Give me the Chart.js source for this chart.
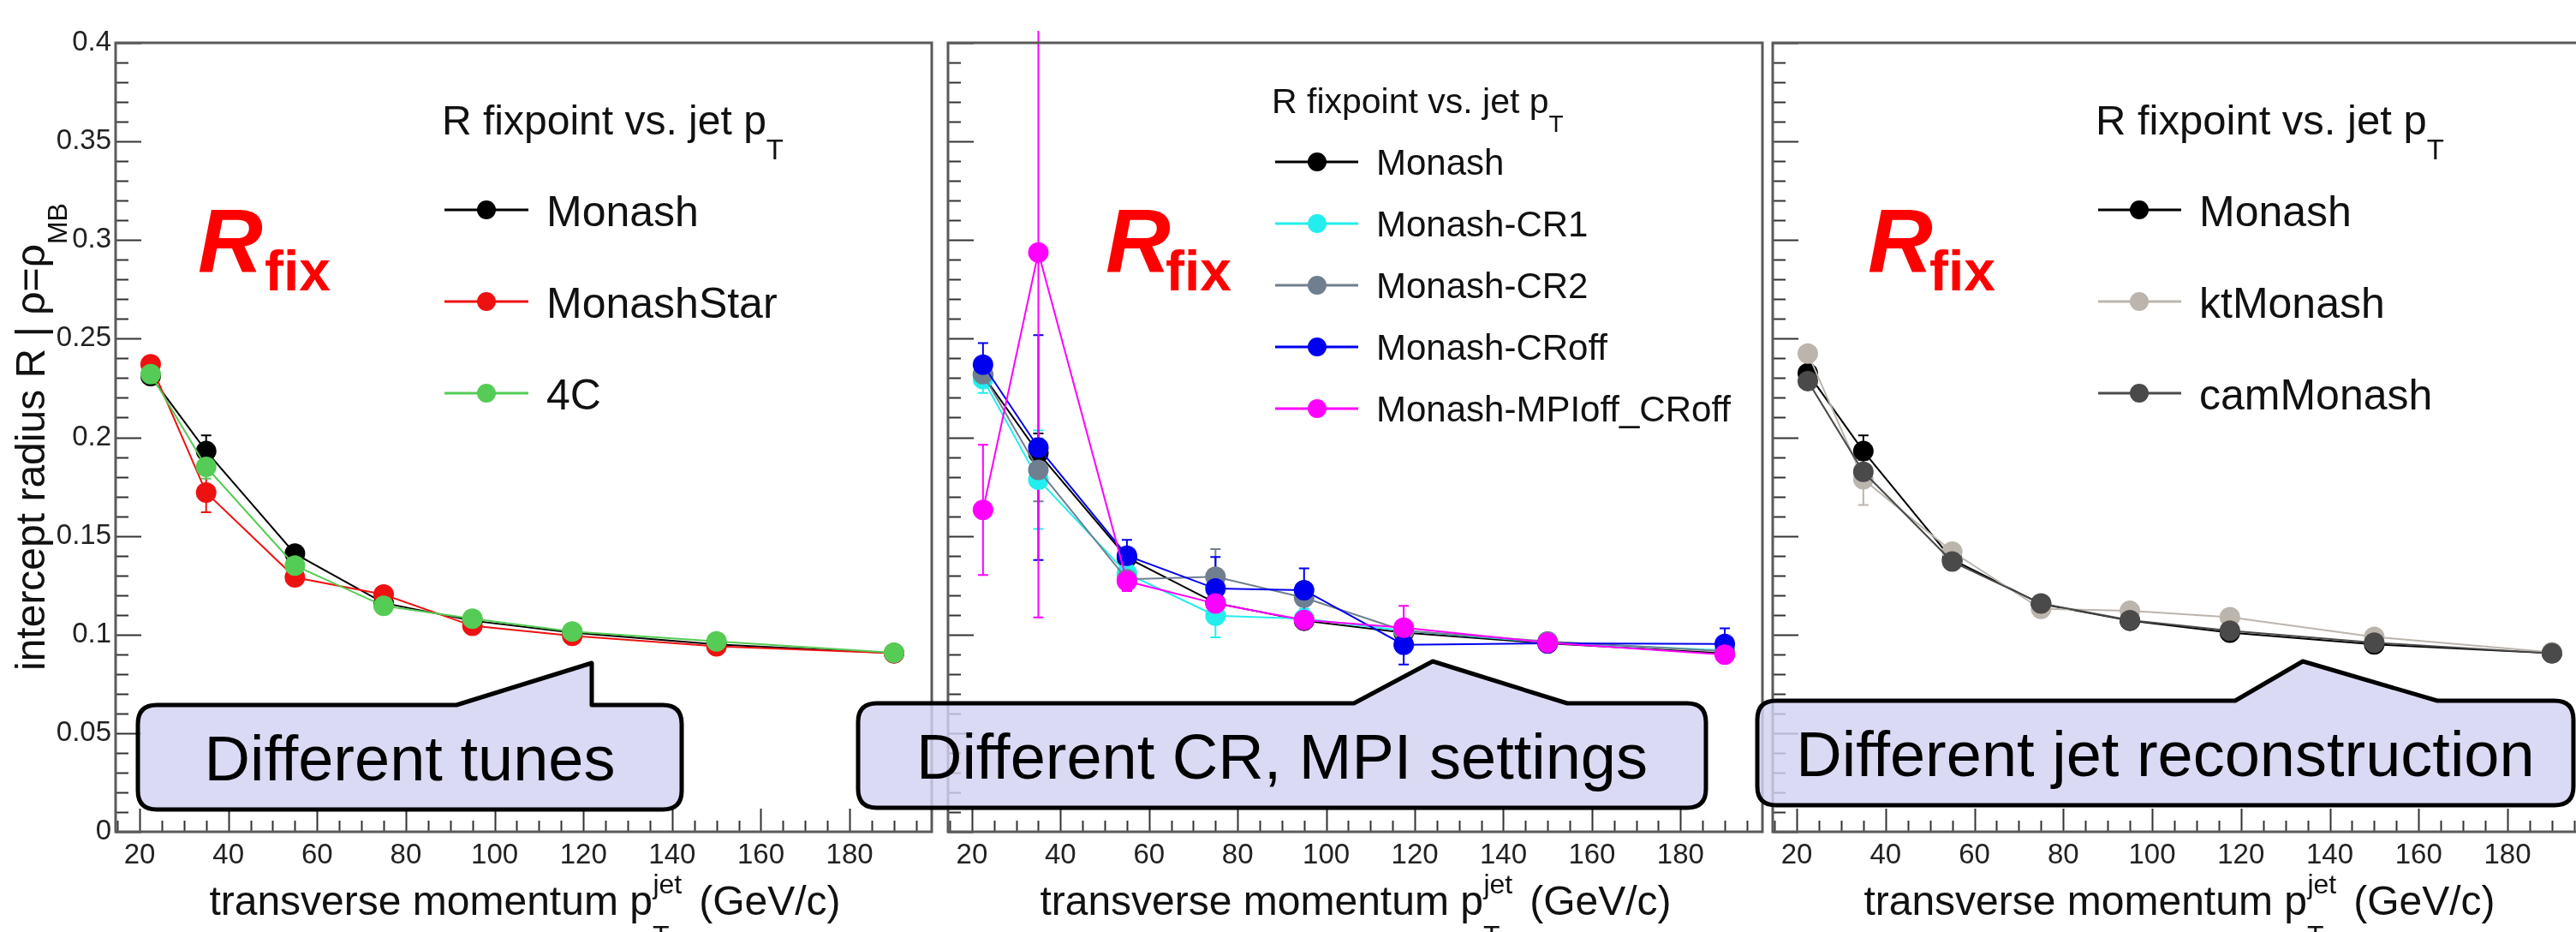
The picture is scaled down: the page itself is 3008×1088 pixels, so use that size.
<!DOCTYPE html>
<html>
<head>
<meta charset="utf-8">
<script src="https://cdn.jsdelivr.net/npm/chart.js@4.4.0/dist/chart.umd.min.js"></script>
<style>
  html, body { margin: 0; padding: 0; background: #fff; overflow: hidden; }
  #page { position: relative; width: 3008px; height: 1088px; overflow: hidden; }
  canvas { position: absolute; top: 0; }
  #overlay { position: absolute; left: 0; top: 0; pointer-events: none; }
</style>
</head>
<body>
<div id="page">
  <canvas id="c1" width="1100" height="1088" style="left:0px"></canvas>
  <canvas id="c2" width="975" height="1088" style="left:1095px"></canvas>
  <canvas id="c3" width="1000" height="1088" style="left:2058px"></canvas>
  <svg id="overlay" width="3008" height="1088" xmlns="http://www.w3.org/2000/svg"></svg>
</div>
<script>
const FONT = "'Liberation Sans', Arial, Helvetica, sans-serif";

// jet pT bins (GeV/c)
const ptBins = [22.5, 35, 55, 75, 95, 117.5, 150, 190];

// axis ticks
const xTickValues = [20, 40, 60, 80, 100, 120, 140, 160, 180];
const yTickValues = [0, 0.05, 0.1, 0.15, 0.2, 0.25, 0.3, 0.35, 0.4];
const yTickLabels = ["0", "0.05", "0.1", "0.15", "0.2", "0.25", "0.3", "0.35", "0.4"];

// panel 1 : different tunes
const monashTunes = [0.231, 0.193, 0.141, 0.116, 0.107, 0.101, 0.095, 0.0905];
const monashTunesErr = [0.003, 0.008, 0.003, 0.003, 0.002, 0.002, 0.002, 0.002];
const monashStar = [0.237, 0.172, 0.129, 0.1203, 0.1044, 0.0993, 0.094, 0.0905];
const monashStarErr = [0.004, 0.010, 0.003, 0.003, 0.002, 0.002, 0.002, 0.002];
const tune4C = [0.232, 0.185, 0.135, 0.1145, 0.108, 0.1015, 0.0965, 0.0908];
const tune4CErr = [0.003, 0.006, 0.003, 0.003, 0.002, 0.002, 0.002, 0.002];

// panel 2 : different CR, MPI settings
const monashCR = [0.2315, 0.192, 0.139, 0.116, 0.107, 0.101, 0.0955, 0.0905];
const monashCRErr = [0.005, 0.010, 0.005, 0.005, 0.004, 0.004, 0.003, 0.003];
const monashCR1 = [0.2295, 0.1785, 0.131, 0.1096, 0.108, 0.102, 0.096, 0.092];
const monashCR1Err = [0.007, 0.025, 0.005, 0.011, 0.005, 0.005, 0.003, 0.003];
const monashCR2 = [0.232, 0.1835, 0.128, 0.1293, 0.1187, 0.102, 0.0965, 0.0915];
const monashCR2Err = [0.006, 0.016, 0.005, 0.014, 0.008, 0.005, 0.004, 0.003];
const monashCRoff = [0.2368, 0.1948, 0.140, 0.1233, 0.1225, 0.0948, 0.0955, 0.0952];
const monashCRoffErr = [0.011, 0.057, 0.008, 0.016, 0.011, 0.010, 0.004, 0.008];
const monashMPIoff = [0.1632, 0.2937, 0.127, 0.1157, 0.1074, 0.1035, 0.0959, 0.0898];
const monashMPIoffErr = [0.033, 0.185, 0.005, 0.006, 0.004, 0.011, 0.003, 0.003];

// panel 3 : different jet reconstruction
const monashReco = [0.2325, 0.193, 0.138, 0.1155, 0.107, 0.101, 0.095, 0.0905];
const monashRecoErr = [0.003, 0.008, 0.003, 0.002, 0.002, 0.002, 0.002, 0.002];
const ktMonash = [0.2425, 0.1787, 0.142, 0.113, 0.112, 0.1088, 0.0988, 0.091];
const ktMonashErr = [0.003, 0.013, 0.004, 0.003, 0.003, 0.003, 0.002, 0.002];
const camMonash = [0.2285, 0.1825, 0.137, 0.1157, 0.1073, 0.102, 0.0959, 0.0905];
const camMonashErr = [0.003, 0.006, 0.003, 0.002, 0.002, 0.002, 0.002, 0.002];

const panels = [
  {
    canvas: "c1", yWidth: 135, padRight: 8, yLabels: true,
    series: [
      { label: "Monash", values: monashTunes, err: monashTunesErr, color: "#000000" },
      { label: "MonashStar", values: monashStar, err: monashStarErr, color: "#ee1111" },
      { label: "4C", values: tune4C, err: tune4CErr, color: "#55cc55" },
    ],
  },
  {
    canvas: "c2", yWidth: 8, padRight: 6, yLabels: false,
    series: [
      { label: "Monash", values: monashCR, err: monashCRErr, color: "#000000" },
      { label: "Monash-CR1", values: monashCR1, err: monashCR1Err, color: "#22eeee" },
      { label: "Monash-CR2", values: monashCR2, err: monashCR2Err, color: "#6f7f8f" },
      { label: "Monash-CRoff", values: monashCRoff, err: monashCRoffErr, color: "#0000ee" },
      { label: "Monash-MPIoff_CRoff", values: monashMPIoff, err: monashMPIoffErr, color: "#ff00ff" },
    ],
  },
  {
    canvas: "c3", yWidth: 8, padRight: 34, yLabels: false,
    series: [
      { label: "Monash", values: monashReco, err: monashRecoErr, color: "#000000" },
      { label: "ktMonash", values: ktMonash, err: ktMonashErr, color: "#bcb5ad" },
      { label: "camMonash", values: camMonash, err: camMonashErr, color: "#4a4a4a" },
    ],
  },
];

// vertical error bars, drawn under the markers
const errorBars = {
  id: "errorBars",
  beforeDatasetsDraw(chart) {
    const { ctx, chartArea: a, scales: { x, y } } = chart;
    ctx.save();
    ctx.beginPath();
    ctx.rect(a.left, a.top - 14, a.right - a.left, a.bottom - a.top + 14);
    ctx.clip();
    chart.data.datasets.forEach((ds) => {
      ctx.strokeStyle = ds.borderColor;
      ctx.lineWidth = 2;
      ds.data.forEach((p, k) => {
        const e = ds.err[k];
        const px = x.getPixelForValue(p.x);
        const top = y.getPixelForValue(p.y + e);
        const bot = y.getPixelForValue(p.y - e);
        ctx.beginPath();
        ctx.moveTo(px, top); ctx.lineTo(px, bot);
        ctx.moveTo(px - 6, top); ctx.lineTo(px + 6, top);
        ctx.moveTo(px - 6, bot); ctx.lineTo(px + 6, bot);
        ctx.stroke();
      });
    });
    ctx.restore();
  },
};

// ROOT style frame with inside ticks
const rootFrame = {
  id: "rootFrame",
  afterDraw(chart) {
    const { ctx, chartArea: a, scales: { x, y } } = chart;
    ctx.save();
    ctx.strokeStyle = "#333";
    ctx.lineWidth = 2;
    ctx.beginPath();
    for (let i = 0; i <= 40; i++) {
      const py = Math.round(y.getPixelForValue(i / 100)) + 0.5;
      const len = i % 5 === 0 ? 30 : 15;
      ctx.moveTo(a.left, py); ctx.lineTo(a.left + len, py);
    }
    for (let i = 3; i <= 39; i++) {
      const px = Math.round(x.getPixelForValue(i * 5)) + 0.5;
      const len = (i * 5) % 20 === 0 ? 27 : 13;
      ctx.moveTo(px, a.bottom); ctx.lineTo(px, a.bottom - len);
    }
    ctx.stroke();
    ctx.strokeStyle = "#5a5a5a";
    ctx.lineWidth = 3;
    ctx.strokeRect(a.left, a.top, a.right - a.left, a.bottom - a.top);
    ctx.restore();
  },
};

function makeChart(p) {
  const ctx = document.getElementById(p.canvas).getContext("2d");
  const n = p.series.length;
  return new Chart(ctx, {
    type: "line",
    data: {
      datasets: p.series.map((s, i) => ({
        label: s.label,
        data: ptBins.map((v, k) => ({ x: v, y: s.values[k] })),
        err: s.err,
        borderColor: s.color,
        backgroundColor: s.color,
        pointBackgroundColor: s.color,
        pointBorderWidth: 0,
        pointRadius: 12,
        borderWidth: 2,
        tension: 0,
        order: n - i,
      })),
    },
    options: {
      responsive: false,
      animation: false,
      layout: { padding: { top: 50, right: p.padRight, left: 0, bottom: 0 } },
      plugins: { legend: { display: false }, tooltip: { enabled: false } },
      scales: {
        x: {
          type: "linear",
          min: 14.6,
          max: 198.5,
          grid: { display: false, drawTicks: false },
          border: { display: false },
          afterBuildTicks: (s) => { s.ticks = xTickValues.map((v) => ({ value: v })); },
          ticks: {
            font: { family: FONT, size: 33 },
            color: "#222",
            padding: 8,
            maxRotation: 0,
            autoSkip: false,
            callback: (v) => String(v),
          },
          afterFit: (s) => { s.height = 117; },
        },
        y: {
          type: "linear",
          min: 0,
          max: 0.4,
          grid: { display: false, drawTicks: false },
          border: { display: false },
          afterBuildTicks: (s) => { s.ticks = yTickValues.map((v) => ({ value: v })); },
          ticks: {
            display: p.yLabels,
            font: { family: FONT, size: 33 },
            color: "#222",
            padding: 5,
            autoSkip: false,
            callback: (v, i) => yTickLabels[i],
          },
          afterFit: (s) => { s.width = p.yWidth; },
        },
      },
    },
    plugins: [errorBars, rootFrame],
  });
}

panels.forEach(makeChart);

// ---- text and annotations on top ----
const legends = [
  { titleX: 516, titleY: 157, titleSize: 48, subDy: 29, subSize: 33,
    lineX: [519, 617], markX: 568, textX: 638, rows: [245, 352, 459], size: 50, base: 19 },
  { titleX: 1485, titleY: 132, titleSize: 41, subDy: 22, subSize: 28,
    lineX: [1489, 1586], markX: 1538, textX: 1607, rows: [189, 261, 333, 405, 477], size: 42, base: 15 },
  { titleX: 2447, titleY: 157, titleSize: 49, subDy: 29, subSize: 33,
    lineX: [2450, 2547], markX: 2498, textX: 2568, rows: [245, 352, 459], size: 50, base: 19 },
];
const rfixPos = [[231, 309], [1291, 1361], [2181, 2253]];
const xTitleCenters = [613, 1583, 2545];
const callouts = [
  { text: "Different tunes", box: [161, 823, 796, 945], tip: [533, 691, 774, 691] },
  { text: "Different CR, MPI settings", box: [1002, 821, 1992, 943], tip: [1581, 1673, 772, 1830] },
  { text: "Different jet reconstruction", box: [2052, 818, 3005, 940], tip: [2610, 2689, 772, 2846] },
];

let svg = "";
const ff = `font-family="${FONT.replace(/'/g, "")}"`;

// y axis title
svg += `<text ${ff} font-size="48" fill="#111" transform="translate(52,783) rotate(-90)">intercept radius R | ρ=ρ<tspan dy="26" font-size="32">MB</tspan></text>`;

panels.forEach((p, i) => {
  const L = legends[i];
  svg += `<text ${ff} font-size="${L.titleSize}" fill="#111" x="${L.titleX}" y="${L.titleY}">R fixpoint vs. jet p<tspan dy="${L.subDy}" font-size="${L.subSize}">T</tspan></text>`;
  p.series.forEach((s, k) => {
    const cy = L.rows[k];
    svg += `<line x1="${L.lineX[0]}" y1="${cy}" x2="${L.lineX[1]}" y2="${cy}" stroke="${s.color}" stroke-width="3"/>`;
    svg += `<circle cx="${L.markX}" cy="${cy}" r="11" fill="${s.color}"/>`;
    svg += `<text ${ff} font-size="${L.size}" fill="#111" x="${L.textX}" y="${cy + L.base}">${s.label}</text>`;
  });

  const R = rfixPos[i];
  svg += `<text ${ff} font-weight="bold" fill="#ff0000"><tspan x="${R[0]}" y="318" font-size="105" font-style="italic">R</tspan><tspan x="${R[1]}" y="339" font-size="66">fix</tspan></text>`;

  svg += `<text ${ff} font-size="48" fill="#111" x="${xTitleCenters[i]}" y="1068" text-anchor="middle">transverse momentum p<tspan dy="35" font-size="32">T</tspan><tspan dx="-19" dy="-60" font-size="32">jet</tspan><tspan dx="20" dy="25" font-size="48">(GeV/c)</tspan></text>`;
});

callouts.forEach((c) => {
  const [x0, y0, x1, y1] = c.box;
  const [bl, ax, ay, br] = c.tip;
  const r = 22;
  const d = `M${x0 + r},${y0} L${bl},${y0} L${ax},${ay} L${br},${y0} L${x1 - r},${y0} Q${x1},${y0} ${x1},${y0 + r} ` +
    `L${x1},${y1 - r} Q${x1},${y1} ${x1 - r},${y1} L${x0 + r},${y1} Q${x0},${y1} ${x0},${y1 - r} L${x0},${y0 + r} Q${x0},${y0} ${x0 + r},${y0} Z`;
  svg += `<path d="${d}" fill="rgba(210,210,242,0.82)" stroke="#000" stroke-width="5" stroke-linejoin="round"/>`;
  svg += `<text ${ff} font-size="74" fill="#000" x="${(x0 + x1) / 2}" y="${(y0 + y1) / 2 + 27}" text-anchor="middle">${c.text}</text>`;
});

document.getElementById("overlay").innerHTML = svg;
</script>
</body>
</html>
